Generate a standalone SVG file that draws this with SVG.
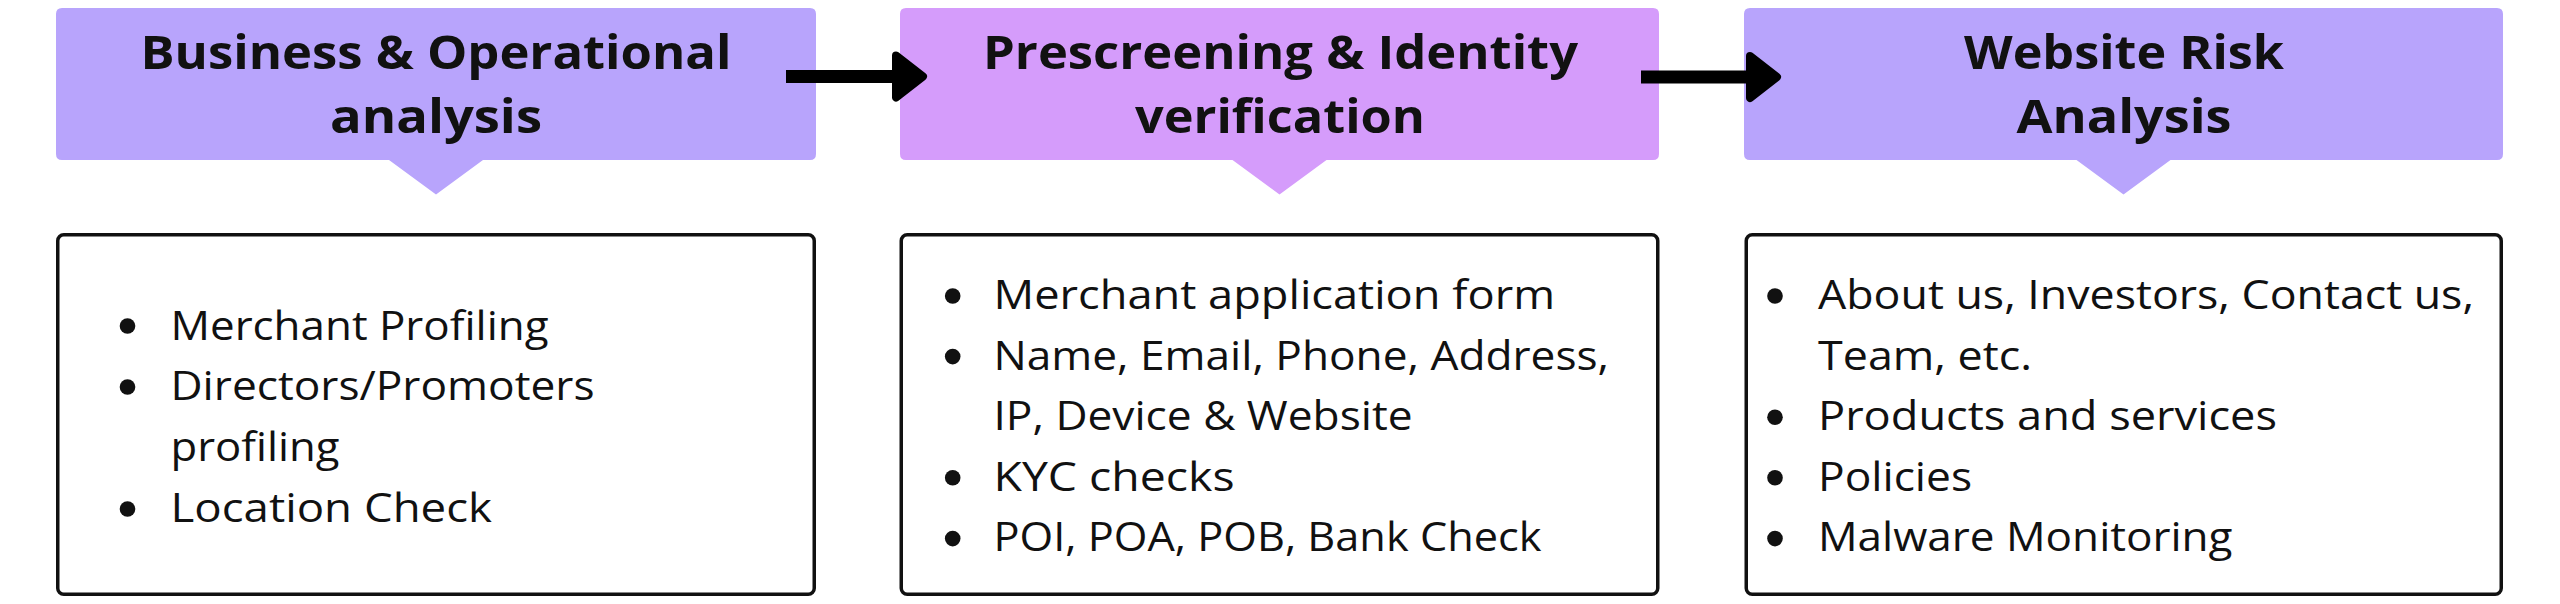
<svg xmlns="http://www.w3.org/2000/svg" width="2560" height="604" viewBox="0 0 2560 604">
<style>
.hdr-a{fill:#B8A4FC}
.hdr-b{fill:#D59CFB}
.ttl{font-family:"Open Sans","Liberation Sans",sans-serif;font-weight:700;font-size:47px;fill:#111111;text-anchor:middle}
.card{fill:#FFFFFF;stroke:#111111;stroke-width:3.5}
.item{font-family:"Open Sans","Liberation Sans",sans-serif;font-size:40px;fill:#111111}
.dot{fill:#111111}
.conn{stroke:#000000;stroke-width:13;fill:none}
</style>
<defs>
<marker id="head" markerUnits="userSpaceOnUse" viewBox="-12 -30 50 60" markerWidth="50" markerHeight="60" refX="0" refY="0" orient="auto" overflow="visible">
<path d="M -4 -21 L 23 0 L -4 21 Z" fill="#000000" stroke="#000000" stroke-width="8" stroke-linejoin="round"/>
</marker>
</defs>
<rect width="2560" height="604" fill="#FFFFFF"/>

<g id="step1">
<path class="hdr-a" d="M62 8 H810 Q816 8 816 14 V154 Q816 160 810 160 H483 L436 194.5 L389 160 H62 Q56 160 56 154 V14 Q56 8 62 8 Z"/>
<text class="ttl" x="436" y="68.5" textLength="591" lengthAdjust="spacingAndGlyphs">Business &amp; Operational</text>
<text class="ttl" x="436" y="133" textLength="212" lengthAdjust="spacingAndGlyphs">analysis</text>
</g>

<g id="step2">
<path class="hdr-b" d="M906 8 H1653 Q1659 8 1659 14 V154 Q1659 160 1653 160 H1326.5 L1279.5 194.5 L1232.5 160 H906 Q900 160 900 154 V14 Q900 8 906 8 Z"/>
<text class="ttl" x="1280.5" y="68.5" textLength="595" lengthAdjust="spacingAndGlyphs">Prescreening &amp; Identity</text>
<text class="ttl" x="1280" y="133" textLength="290" lengthAdjust="spacingAndGlyphs">verification</text>
</g>

<g id="step3">
<path class="hdr-a" d="M1750 8 H2497 Q2503 8 2503 14 V154 Q2503 160 2497 160 H2170.5 L2123.5 194.5 L2076.5 160 H1750 Q1744 160 1744 154 V14 Q1744 8 1750 8 Z"/>
<text class="ttl" x="2124" y="68.5" textLength="320" lengthAdjust="spacingAndGlyphs">Website Risk</text>
<text class="ttl" x="2124" y="133" textLength="215" lengthAdjust="spacingAndGlyphs">Analysis</text>
</g>

<g id="card1">
<rect class="card" x="57.75" y="234.75" width="756.5" height="359.5" rx="6"/>
<circle class="dot" cx="127.5" cy="326" r="7.8"/>
<text class="item" x="170.5" y="339.5" textLength="378" lengthAdjust="spacingAndGlyphs">Merchant Profiling</text>
<circle class="dot" cx="127.5" cy="387" r="7.8"/>
<text class="item" x="170.5" y="400.3" textLength="424" lengthAdjust="spacingAndGlyphs">Directors/Promoters</text>
<text class="item" x="170.5" y="461.1" textLength="169" lengthAdjust="spacingAndGlyphs">profiling</text>
<circle class="dot" cx="127.5" cy="509" r="7.8"/>
<text class="item" x="170.5" y="521.9" textLength="321.5" lengthAdjust="spacingAndGlyphs">Location Check</text>
</g>

<g id="card2">
<rect class="card" x="901.25" y="234.75" width="756.5" height="359.5" rx="6"/>
<circle class="dot" cx="952.7" cy="296" r="7.8"/>
<text class="item" x="993.5" y="309" textLength="561.5" lengthAdjust="spacingAndGlyphs">Merchant application form</text>
<circle class="dot" cx="952.7" cy="356.6" r="7.8"/>
<text class="item" x="993.5" y="369.6" textLength="615.5" lengthAdjust="spacingAndGlyphs">Name, Email, Phone, Address,</text>
<text class="item" x="993.5" y="430.2" textLength="419" lengthAdjust="spacingAndGlyphs">IP, Device &amp; Website</text>
<circle class="dot" cx="952.7" cy="477.8" r="7.8"/>
<text class="item" x="993.5" y="490.8" textLength="241" lengthAdjust="spacingAndGlyphs">KYC checks</text>
<circle class="dot" cx="952.7" cy="538.6" r="7.8"/>
<text class="item" x="993.5" y="551.4" textLength="548" lengthAdjust="spacingAndGlyphs">POI, POA, POB, Bank Check</text>
</g>

<g id="card3">
<rect class="card" x="1746.25" y="234.75" width="755" height="359.5" rx="6"/>
<circle class="dot" cx="1775" cy="296" r="7.8"/>
<text class="item" x="1818" y="309" textLength="656" lengthAdjust="spacingAndGlyphs">About us, Investors, Contact us,</text>
<text class="item" x="1818" y="369.6" textLength="214" lengthAdjust="spacingAndGlyphs">Team, etc.</text>
<circle class="dot" cx="1775" cy="417.2" r="7.8"/>
<text class="item" x="1818" y="430.2" textLength="459" lengthAdjust="spacingAndGlyphs">Products and services</text>
<circle class="dot" cx="1775" cy="477.8" r="7.8"/>
<text class="item" x="1818" y="490.8" textLength="154" lengthAdjust="spacingAndGlyphs">Policies</text>
<circle class="dot" cx="1775" cy="538.6" r="7.8"/>
<text class="item" x="1818" y="551.4" textLength="414.5" lengthAdjust="spacingAndGlyphs">Malware Monitoring</text>
</g>

<g id="connectors">
<line class="conn" x1="786" y1="76.5" x2="900" y2="76.5" marker-end="url(#head)"/>
<line class="conn" x1="1641" y1="77" x2="1754" y2="77" marker-end="url(#head)"/>
</g>
</svg>
